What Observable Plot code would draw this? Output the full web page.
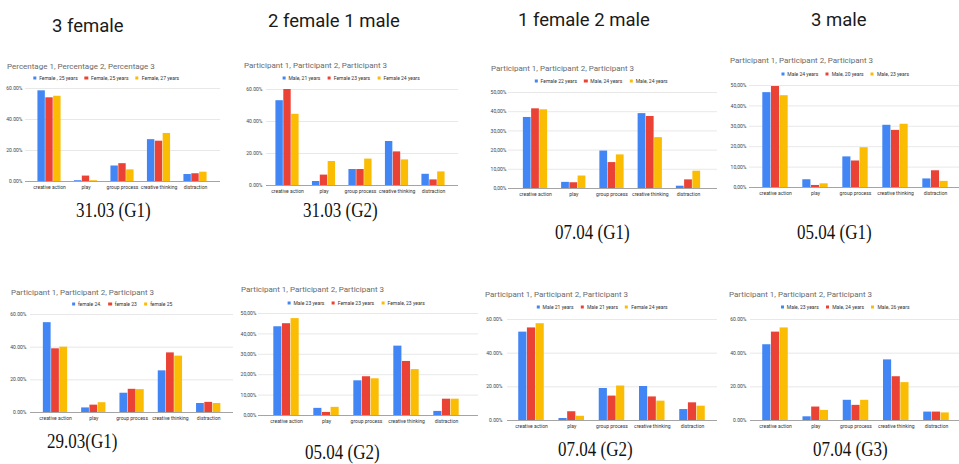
<!DOCTYPE html>
<html><head><meta charset="utf-8">
<script src="https://cdn.jsdelivr.net/npm/d3@7"></script>
<script src="https://cdn.jsdelivr.net/npm/@observablehq/plot@0.6"></script>
<style>
body{margin:0;background:#fff;}
#root{position:relative;width:959px;height:464px;overflow:hidden;font-family:Roboto,sans-serif;background:#fff;}
.abs{position:absolute;white-space:nowrap;}
.heading{font-size:18.5px;line-height:1;color:#1a1a1a;}
.caption{font-family:"Liberation Serif",serif;font-size:20px;line-height:1;color:#111;transform:scaleX(0.85);transform-origin:left top;}
.ctitle{font-size:8px;line-height:1;color:#6a6a6a;transform:translateY(-50%);}
.legend{display:flex;align-items:center;font-size:5px;line-height:1;color:#333;transform:translate(-50%,-50%);}
.legend .item{display:flex;align-items:center;margin:0 3.5px;}
.legend .sw{display:inline-block;width:3.3px;height:3.3px;margin-right:3px;}
</style></head><body><div id="root"></div>
<script>
// ---------- data ----------
const categories = ["creative action", "play", "group process", "creative thinking", "distraction"];
const seriesColors = ["#4285f4", "#ea4335", "#fbbc04"];
const headings = ["3 female", "2 female 1 male", "1 female 2 male", "3 male"];
const captions = ["31.03 (G1)", "31.03 (G2)", "07.04 (G1)", "05.04 (G1)", "29.03(G1)", "05.04 (G2)", "07.04 (G2)", "07.04 (G3)"];
const chartTitles = [
  "Percentage 1, Percentage 2, Percentage 3",
  "Participant 1, Participant 2, Participant 3",
  "Participant 1, Participant 2, Participant 3",
  "Participant 1, Participant 2, Participant 3",
  "Participant 1, Participant 2, Participant 3",
  "Participant 1, Participant 2, Participant 3",
  "Participant 1, Participant 2, Participant 3",
  "Participant 1, Participant 2, Participant 3"
];
const legend3103G1 = ["Female , 25 years", "Female, 25 years", "Female, 27 years"];
const legend3103G2 = ["Male, 21 years", "Female 23 years", "Female  24 years"];
const legend0704G1 = ["Female 22 years", "Male, 24 years", "Male, 24 years"];
const legend0504G1 = ["Male 24 years", "Male, 20 years", "Male, 23 years"];
const legend2903G1 = ["female 24.", "female 23", "female 25"];
const legend0504G2 = ["Male 23 years", "Female 23 years", "Female, 23 years"];
const legend0704G2 = ["Male 21 years", "Male 21 years", "Female 24 years"];
const legend0704G3 = ["Male, 23 years", "Male, 24 years", "Male, 26 years"];
// values in percent: one array per participant, in category order
const values3103G1 = [[58.5, 0.5, 10, 27, 4.5], [54, 3.5, 11.5, 26, 5], [55, 0.5, 7.5, 31, 6]];
const values3103G2 = [[53, 2.5, 10, 27.5, 7], [60, 6.5, 10, 21, 3.5], [44.5, 15, 16.5, 16, 8.5]];
const values0704G1 = [[37, 3.2, 19.5, 39, 1.2], [41.5, 3, 13.5, 37.5, 4.5], [41, 6.5, 17.5, 26.5, 9]];
const values0504G1 = [[46.5, 3.8, 15, 30.5, 4.2], [49.5, 1, 13, 28, 8.2], [45, 1.8, 19.5, 31, 3]];
const values2903G1 = [[55, 2.8, 11.8, 25.5, 5.5], [39, 4.5, 14.2, 36.5, 6.2], [40, 6, 14, 34.5, 5.5]];
const values0504G2 = [[43.5, 3.5, 17, 34, 2], [45, 1.5, 19, 26.5, 8], [47.5, 4, 18, 22.5, 8]];
const values0704G2 = [[52.5, 1.2, 19, 20.2, 6.5], [55, 5.2, 14.5, 14, 10.5], [57.5, 2.5, 20.5, 11.5, 8.5]];
const values0704G3 = [[45, 2.2, 12, 36, 5], [52.5, 8, 9, 26, 5], [55, 6, 12, 22.5, 4.5]];
const ticks60 = [0, 20, 40, 60];
const tickLabels60 = ["0.00%", "20.00%", "40.00%", "60.00%"];
const ticks50 = [0, 10, 20, 30, 40, 50];
const tickLabels50 = ["0,00%", "10,00%", "20,00%", "30,00%", "40,00%", "50,00%"];

const charts = [
  {values: values3103G1, legend: legend3103G1, ticks: ticks60, tickLabels: tickLabels60},
  {values: values3103G2, legend: legend3103G2, ticks: ticks60, tickLabels: tickLabels60},
  {values: values0704G1, legend: legend0704G1, ticks: ticks50, tickLabels: tickLabels50},
  {values: values0504G1, legend: legend0504G1, ticks: ticks50, tickLabels: tickLabels50},
  {values: values2903G1, legend: legend2903G1, ticks: ticks60, tickLabels: tickLabels60},
  {values: values0504G2, legend: legend0504G2, ticks: ticks50, tickLabels: tickLabels50},
  {values: values0704G2, legend: legend0704G2, ticks: ticks60, tickLabels: tickLabels60},
  {values: values0704G3, legend: legend0704G3, ticks: ticks60, tickLabels: tickLabels60}
];

// ---------- layout (page pixels) ----------
const layout = [
  {left: 0,   titleX: 7,   titleY: 67,  legCX: 106, legY: 78,  gx1: 25,  gx2: 220, labR: 22,  y0: 181, yTop: 88,  c0: 49,  step: 36.5},
  {left: 240, titleX: 244, titleY: 66,  legCX: 351, legY: 78,  gx1: 266, gx2: 458, labR: 262, y0: 185, yTop: 89,  c0: 287, step: 36.5},
  {left: 480, titleX: 491, titleY: 69,  legCX: 601, legY: 81,  gx1: 508, gx2: 717, labR: 506, y0: 188, yTop: 92,  c0: 535, step: 38.25},
  {left: 720, titleX: 730, titleY: 61,  legCX: 845, legY: 74,  gx1: 749, gx2: 959, labR: 746, y0: 187, yTop: 85,  c0: 775, step: 40},
  {left: 0,   titleX: 11,  titleY: 293, legCX: 122, legY: 304, gx1: 30,  gx2: 233, labR: 26,  y0: 412, yTop: 314, c0: 55,  step: 38.3},
  {left: 240, titleX: 241, titleY: 290, legCX: 356, legY: 303, gx1: 258, gx2: 478, labR: 256, y0: 415, yTop: 313, c0: 286, step: 40},
  {left: 480, titleX: 485, titleY: 295, legCX: 602, legY: 307, gx1: 507, gx2: 717, labR: 502, y0: 420, yTop: 319, c0: 531, step: 40.25},
  {left: 720, titleX: 729, titleY: 295, legCX: 845, legY: 307, gx1: 750, gx2: 959, labR: 746, y0: 420, yTop: 319, c0: 775, step: 40.25}
];
const headingPos = [{x: 52, base: 33}, {x: 268, base: 28}, {x: 518, base: 27}, {x: 811, base: 27}];
const captionPos = [
  {x: 76, cy: 210}, {x: 303, cy: 210}, {x: 555, cy: 232}, {x: 797, cy: 232},
  {x: 47, cy: 441}, {x: 305, cy: 452}, {x: 558, cy: 449}, {x: 813, cy: 449}
];
const groupPadding = 0.34;
const PW = 250;

const root = document.getElementById("root");
function place(el, x, y) { el.style.left = x + "px"; el.style.top = y + "px"; root.appendChild(el); return el; }
function div(cls, text) { const d = document.createElement("div"); d.className = "abs " + cls; if (text != null) d.textContent = text; return d; }

headings.forEach((h, i) => place(div("heading", h), headingPos[i].x, headingPos[i].base - 15.6));
captions.forEach((c, i) => place(div("caption", c), captionPos[i].x, captionPos[i].cy - 10.2));

const baseStyle = {background: "transparent", overflow: "visible", maxWidth: "none", fontFamily: "Roboto, sans-serif", fontSize: "5px", color: "#444"};

charts.forEach((c, i) => {
  const L = layout[i];
  const top = L.yTop - 10, h = (L.y0 - L.yTop) + 25;
  const ymax = d3.max(c.ticks) / 100;
  const tickVals = c.ticks.map(t => t / 100);
  const rows = [];
  c.values.forEach((ser, s) => ser.forEach((v, k) => rows.push({category: categories[k], series: s, value: v / 100})));

  // grid + y axis layer
  const grid = Plot.plot({
    width: PW, height: h,
    marginLeft: L.gx1 - L.left, marginRight: L.left + PW - L.gx2,
    marginTop: 10, marginBottom: 15,
    x: {axis: null, domain: [0, 1]},
    y: {domain: [0, ymax], ticks: tickVals, tickFormat: d => c.tickLabels[tickVals.indexOf(d)], tickSize: 0, tickPadding: L.gx1 - L.labR, label: null},
    style: baseStyle,
    marks: [
      Plot.ruleY(tickVals.filter(t => t > 0), {stroke: "#e2e2e2", strokeWidth: 0.8}),
      Plot.ruleY([0], {stroke: "#9a9a9a", strokeWidth: 0.9})
    ]
  });
  const g = document.createElement("div"); g.className = "abs"; g.style.width = PW + "px"; g.appendChild(grid); place(g, L.left, top);

  // bars layer: fx band with inner padding only, range from first to last group
  const start = L.c0 - L.step * (1 - groupPadding) / 2;
  const stop = start + L.step * (categories.length - groupPadding);
  const bars = Plot.plot({
    width: PW, height: h,
    marginLeft: start - L.left, marginRight: L.left + PW - stop,
    marginTop: 10, marginBottom: 15,
    fx: {domain: categories, paddingInner: groupPadding, paddingOuter: 0, round: false, label: null, tickSize: 0, tickPadding: 3.5, axis: "bottom"},
    x: {domain: [0, 1, 2], axis: null, padding: 0.06, round: false},
    y: {domain: [0, ymax], axis: null},
    color: {type: "ordinal", domain: [0, 1, 2], range: seriesColors},
    style: {...baseStyle, color: "#333"},
    marks: [Plot.barY(rows, {fx: "category", x: "series", y: "value", fill: "series"})]
  });
  const b = document.createElement("div"); b.className = "abs"; b.style.width = PW + "px"; b.appendChild(bars); place(b, L.left, top);

  // title
  place(div("ctitle", chartTitles[i]), L.titleX, L.titleY);
  // legend
  const lg = div("legend");
  c.legend.forEach((name, s) => {
    const it = document.createElement("span"); it.className = "item";
    const sw = document.createElement("span"); sw.className = "sw"; sw.style.background = seriesColors[s];
    it.appendChild(sw); it.appendChild(document.createTextNode(name)); lg.appendChild(it);
  });
  place(lg, L.legCX, L.legY);
});
</script>
</body></html>
